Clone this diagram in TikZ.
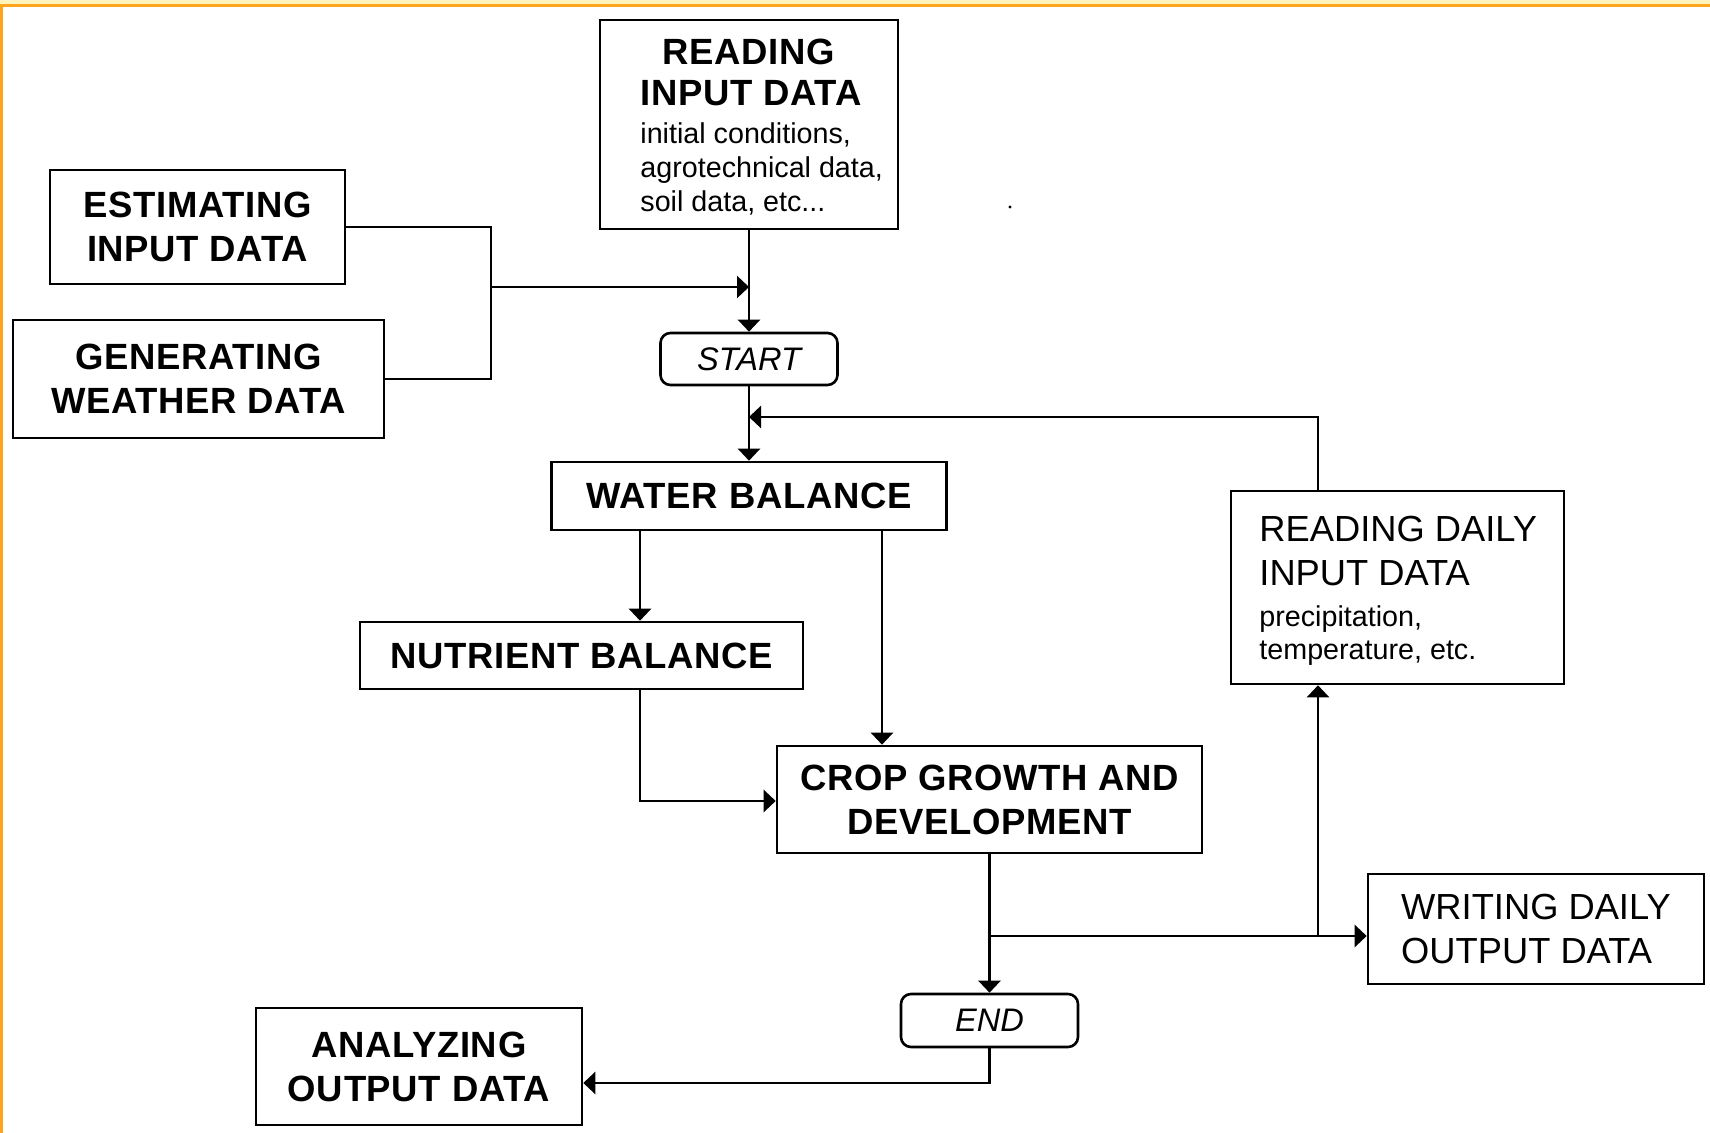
\documentclass[tikz,border=0pt]{standalone}
\usepackage{fontspec}
\setmainfont{Liberation Sans}
\newfontfamily\ttlfam[LetterSpace=1.8]{Liberation Sans}
\usetikzlibrary{arrows.meta}
\newcommand\myttl{\ttlfam\fontsize{18.25pt}{22pt}\selectfont\bfseries}
\newcommand\myreg{\fontsize{18.15pt}{22pt}\selectfont}
\newcommand\mysub{\fontsize{14.35pt}{17pt}\selectfont}
\newcommand\myterm{\fontsize{16.3pt}{19pt}\selectfont\itshape}
\definecolor{paley}{HTML}{FFF4BC}
\definecolor{frameor}{HTML}{FFA51C}
\begin{document}
\begin{tikzpicture}[x=0.5pt,y=-0.5pt,
  box/.style={draw, line width=1.3pt, inner sep=0pt, align=center, font=\myttl},
  term/.style={draw, line width=1.3pt, inner sep=0pt, rounded corners=5pt, font=\myterm},
  lbl/.style={inner sep=0pt},
  ln/.style={line width=1.3pt},
  arr/.style={line width=1.3pt, -{Triangle[length=6pt,width=11pt]}}]
% background and frame
\useasboundingbox (0,0) rectangle (1710,1133);
\fill[white] (0,0) rectangle (1710,1133);
\fill[paley] (0,0) rectangle (1710,4.5);
\draw[frameor, line width=1.2pt] (0,5.5) -- (1710,5.5);
\draw[frameor, line width=1.3pt] (1.4,5) -- (1.4,1133);

% boxes
\node[box, minimum width=149pt, minimum height=104.5pt] (READ) at (749,124.5) {};
\node[lbl, anchor=base, font=\myttl] (readt1) at (749,65) {READING};
\node[lbl, anchor=base, font=\myttl] (readt2) at (751,106) {INPUT DATA};
\node[lbl, anchor=base west, font=\mysub] (reads1) at (640,144) {initial conditions,};
\node[lbl, anchor=base west, font=\mysub] (reads2) at (640,178) {agrotechnical data,};
\node[lbl, anchor=base west, font=\mysub] (reads3) at (640,212) {soil data, etc...};

\node[box, minimum width=147.5pt, minimum height=57pt] (EST) at (197.5,227) {ESTIMATING\\INPUT DATA};
\node[box, minimum width=185.5pt, minimum height=59pt] (GEN) at (198.5,379) {GENERATING\\WEATHER DATA};
\node[term, minimum width=88.5pt, minimum height=26pt] (START) at (749,359) {START};
\node[box, minimum width=197.5pt, minimum height=34pt] (WATER) at (749,496) {WATER BALANCE};
\node[box, minimum width=221.5pt, minimum height=33.5pt] (NUT) at (581.5,655.5) {NUTRIENT BALANCE};
\node[box, minimum width=212.5pt, minimum height=53.5pt] (CROP) at (989.5,799.5) {CROP GROWTH AND\\DEVELOPMENT};

\node[box, minimum width=166.5pt, minimum height=96.5pt] (RD) at (1397.5,587.5) {};
\node[lbl, anchor=base west, font=\myreg] (rdt1) at (1259,542) {READING DAILY};
\node[lbl, anchor=base west, font=\myreg] (rdt2) at (1259,586) {INPUT DATA};
\node[lbl, anchor=base west, font=\mysub] (rds1) at (1259,627) {precipitation,};
\node[lbl, anchor=base west, font=\mysub] (rds2) at (1259,660) {temperature, etc.};

\node[box, minimum width=168pt, minimum height=55pt, align=left, font=\myreg] (WD) at (1536,929) {WRITING DAILY\\OUTPUT DATA};
\node[term, minimum width=88.5pt, minimum height=26.5pt] (END) at (989.5,1020.5) {END};
\node[box, minimum width=163pt, minimum height=58.5pt] (ANAL) at (419,1066.5) {ANALYZING\\OUTPUT DATA};

% stray dot
\fill (1010,207) circle[radius=0.8pt];

% helper coordinates
\coordinate (bx) at (491,0);
\coordinate (jin) at (749,287);
\coordinate (fb) at (749,417);
\coordinate (cl) at (640,801);
\coordinate (cr) at (882,0);
\coordinate (br1) at (989.5,936);
\coordinate (br2) at (1318,936);
\coordinate (ae) at (989.5,1083);

% connectors
\draw[arr] (READ.south) -- (START.north);
\draw[ln] (EST.east) -| (bx |- GEN.east) -- (GEN.east);
\draw[arr] (bx |- jin) -- (jin);
\draw[arr] (START.south) -- (WATER.north);
\draw[arr] (br2 |- RD.north) |- (fb);
\draw[arr] (cl |- WATER.south) -- (cl |- NUT.north);
\draw[arr] (cr |- WATER.south) -- (cr |- CROP.north);
\draw[arr] (cl |- NUT.south) -- (cl) -- (cl -| CROP.west);
\draw[arr] (CROP.south) -- (END.north);
\draw[arr] (br1) -- (br1 -| WD.west);
\draw[arr] (br2) -- (br2 |- RD.south);
\draw[arr] (END.south) -- (ae) -- (ae -| ANAL.east);
\end{tikzpicture}
\end{document}
